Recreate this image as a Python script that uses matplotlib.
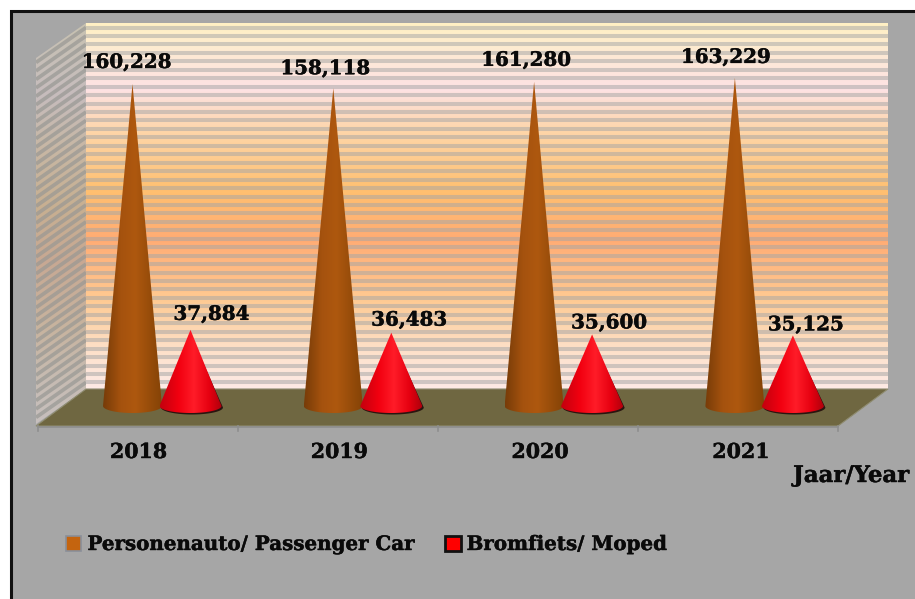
import numpy as np
import matplotlib
matplotlib.use("Agg")
import matplotlib.pyplot as plt
import matplotlib.patheffects as pe
from matplotlib.colors import LinearSegmentedColormap
from matplotlib.patches import Polygon, Patch, Rectangle, PathPatch
from matplotlib.path import Path

years = ["2018", "2019", "2020", "2021"]
car_values = [160228, 158118, 161280, 163229]
moped_values = [37884, 36483, 35600, 35125]
series_names = ["Personenauto/ Passenger Car", "Bromfiets/ Moped"]
axis_title = "Jaar/Year"

W, H = 915, 599
FONT = "DejaVu Serif"
GREY = "#a6a6a6"
INK = "#0a0a0a"
HEAVY = [pe.withStroke(linewidth=0.3, foreground=INK)]
fig = plt.figure(figsize=(W / 100, H / 100), dpi=100, facecolor="white")

# ---------- backdrop, in pixel coordinates ----------
bg = fig.add_axes([0, 0, 1, 1])
bg.set_xlim(0, W)
bg.set_ylim(H, 0)
bg.axis("off")
bg.add_patch(Rectangle((10.5, 10.5), W, H, fc=GREY, ec="#111111", lw=2.2, zorder=0))

wall_stops = [(23, "#fff0c4"), (60, "#fde8d8"), (88, "#fde2e4"), (130, "#fed6aa"),
              (190, "#ffc070"), (240, "#ffac74"), (300, "#ffca92"), (350, "#fde0c8"),
              (389, "#fdeae6")]
pos = [(y - 23) / (389 - 23) for y, _ in wall_stops]
wall_cmap = LinearSegmentedColormap.from_list("wall", list(zip(pos, [c for _, c in wall_stops])))
grad = np.linspace(0, 1, 366)[:, None]
bg.imshow(grad, extent=(86, 888, 389, 23), cmap=wall_cmap, aspect="auto", zorder=1)

# side wall: same colours, muted, clipped to parallelogram
side = Polygon([(36, 58), (86, 23), (86, 389), (36, 424)], closed=True,
               transform=bg.transData, fc="none", ec="none")
bg.add_patch(side)
im = bg.imshow(grad, extent=(36, 86, 424, 23), cmap=wall_cmap, aspect="auto", alpha=0.38, zorder=1)
im.set_clip_path(side)

# stripes
stripe_y = np.arange(27.5, 389, 8.45)
for y in stripe_y:
    bg.plot([86, 888], [y, y], color="#a6a6a6", lw=2.9, alpha=0.52, zorder=2, solid_capstyle="butt")
    l, = bg.plot([36, 86], [y + 35, y], color="#989894", lw=2.7, alpha=0.7, zorder=2, solid_capstyle="butt")
    l.set_clip_path(side)

# floor
bg.add_patch(Polygon([(86, 389), (888, 389), (838, 426), (36, 426)], closed=True,
                     fc="#6f6741", ec="#8f8c70", lw=0.8, zorder=3))
bg.plot([38, 838], [427, 427], color="#8e8e8e", lw=1.2, zorder=3)
for x in np.arange(38, 839, 200):
    bg.plot([x, x], [426, 431], color="#8e8e8e", lw=1.2, zorder=3)

# ---------- data layer: x = year index, y = value ----------
PX_PER_UNIT = 0.00201
BASE_PX = 406
GROUP_PX = 161.5
STEP_PX = 200.8
ax = fig.add_axes([0, 0, 1, 1], facecolor="none")
xlim = ((0 - GROUP_PX) / STEP_PX, (W - GROUP_PX) / STEP_PX)
ylim = (-(H - BASE_PX) / PX_PER_UNIT, BASE_PX / PX_PER_UNIT)
ax.axis("off")


def cone(i, dx_px, value, half_px, cmap, shadow=None):
    cx = i + dx_px / STEP_PX
    w = half_px / STEP_PX
    ry = 7 / PX_PER_UNIT
    t = np.linspace(np.pi, 2 * np.pi, 40)
    xs = cx + w * np.cos(t)
    ys = ry * np.sin(t)
    verts = [(cx, value)] + list(zip(xs, ys)) + [(cx, value)]
    if shadow:
        sx = cx + 1.5 / STEP_PX
        ax.add_patch(Polygon(list(zip(sx + w * np.cos(t), ys - 1.5 / PX_PER_UNIT)) + [(sx, 0.9 * value)],
                             closed=True, fc=shadow, ec="none", zorder=4))
    clip = PathPatch(Path(verts), fc="none", ec="none", transform=ax.transData)
    ax.add_patch(clip)
    g = ax.imshow(np.linspace(0, 1, 64)[None, :], extent=(cx - w, cx + w, -ry, value),
                  cmap=cmap, aspect="auto", zorder=5, interpolation="bilinear")
    g.set_clip_path(clip)


car_cmap = LinearSegmentedColormap.from_list(
    "c", [(0, "#783c08"), (0.3, "#a5520e"), (0.55, "#ae580f"), (1, "#854306")])
moped_cmap = LinearSegmentedColormap.from_list(
    "m", [(0, "#c4000e"), (0.3, "#f20010"), (0.55, "#ff1c28"), (0.8, "#e60010"), (1, "#b0000c")])

car_labels = [(-6, 22), (-8, 20), (-8, 22), (-9, 21)]
moped_labels = [(21, 16), (18, 13), (17, 12), (13, 11)]
for i, (c, m) in enumerate(zip(car_values, moped_values)):
    cone(i, -29, c, 29.5, car_cmap)
    cone(i, 29, m, 31, moped_cmap, shadow="#2a1510")
    for x_off, val, off in ((-29, c, car_labels[i]), (29, m, moped_labels[i])):
        ax.annotate(f"{val:,}", (i + x_off / STEP_PX, val), xytext=(off[0] * 0.72, off[1] * 0.72),
                    textcoords="offset points", ha="center", va="center", family=FONT, weight="bold",
                    fontsize=14.3, color=INK, zorder=8, path_effects=HEAVY)
    ax.annotate(years[i], (i, 0), xytext=(-23 * 0.72, -46 * 0.72), textcoords="offset points",
                ha="center", va="center", family=FONT, weight="bold", fontsize=14.8, color=INK,
                zorder=8, path_effects=HEAVY)

ax.set_xlim(*xlim)
ax.set_ylim(*ylim)

ax.text(851 / W, 1 - 476 / H, axis_title, transform=ax.transAxes, ha="center", va="center",
        family=FONT, weight="bold", fontsize=16.4, color=INK, path_effects=HEAVY)

handles = [Patch(fc="#c4640f", ec="#8a8f98", lw=1.2), Patch(fc="#ff0000", ec="#111111", lw=2)]
leg = ax.legend(handles, series_names, ncol=2, frameon=False, loc="center left",
                bbox_to_anchor=(66 / W, 1 - 544 / H), borderaxespad=0, borderpad=0,
                prop={"family": FONT, "weight": "bold", "size": 14.3},
                handlelength=0.78, handleheight=0.78, handletextpad=0.3, columnspacing=1.5)
for t in leg.get_texts():
    t.set_color(INK)
    t.set_path_effects(HEAVY)

fig.savefig("out.png", dpi=100, facecolor="white")
